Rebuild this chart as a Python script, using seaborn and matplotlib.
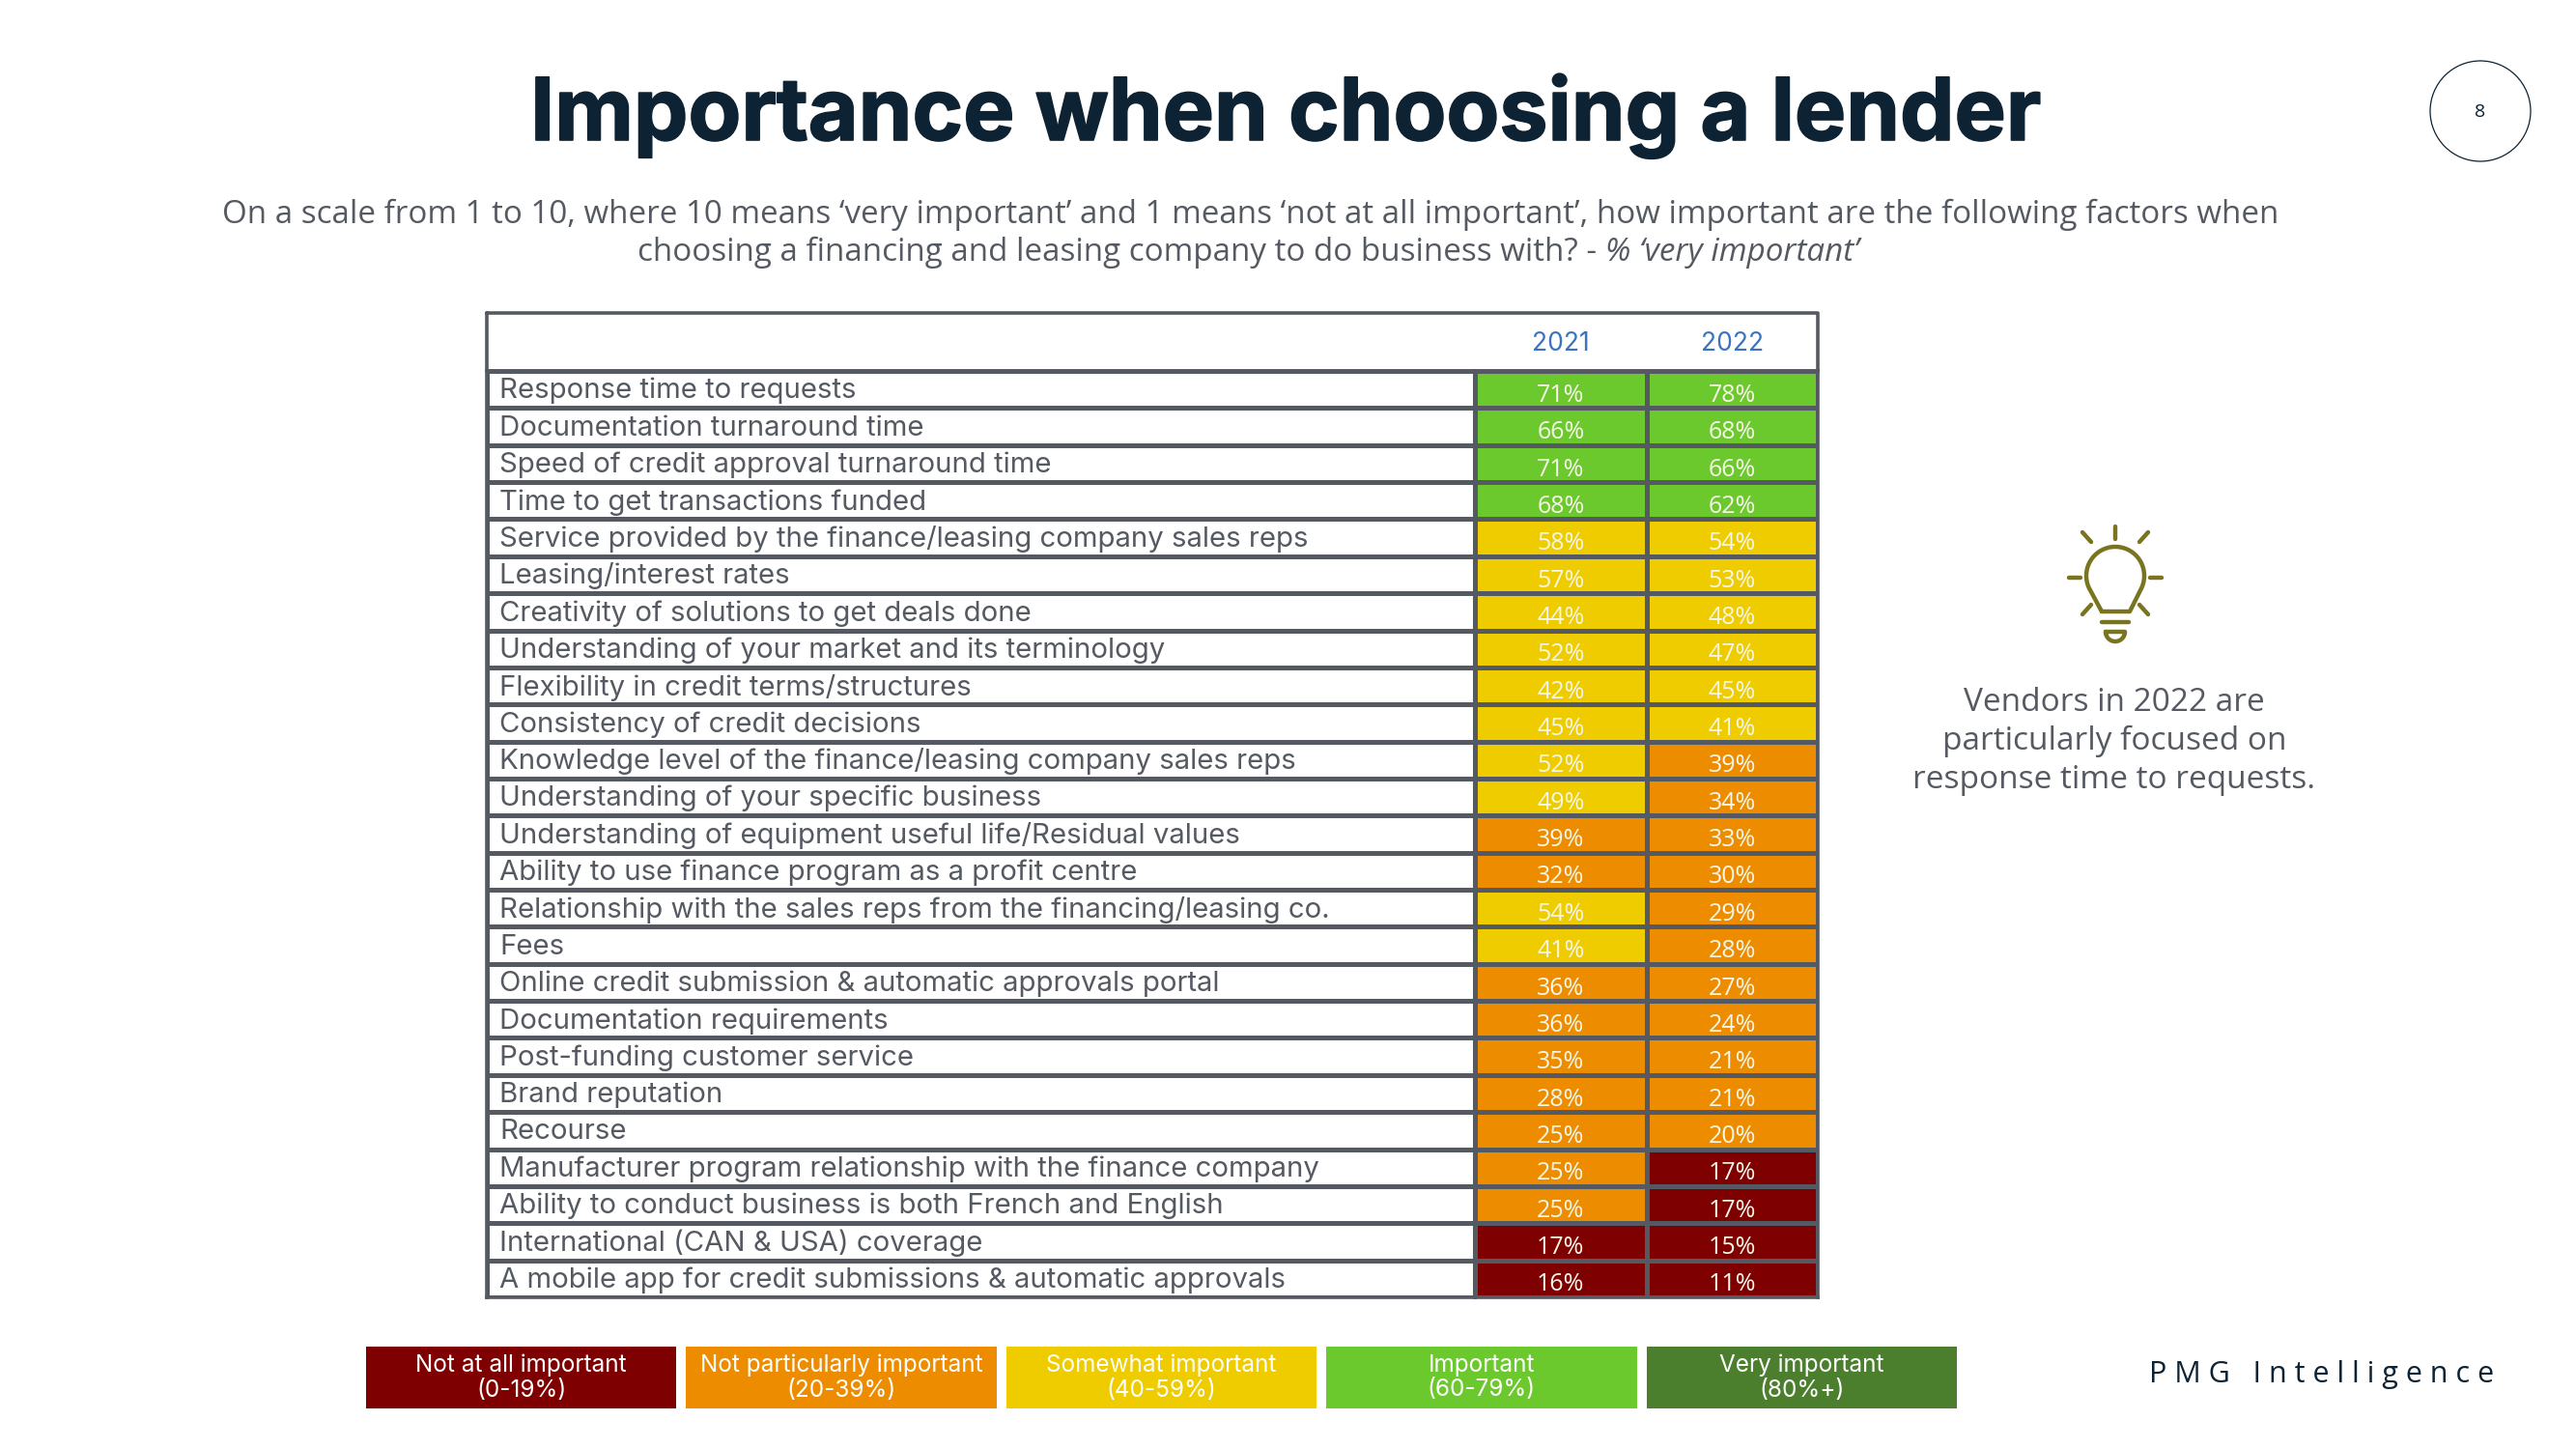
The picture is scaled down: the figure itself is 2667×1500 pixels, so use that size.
import matplotlib
matplotlib.use("Agg")
import matplotlib.patheffects as pe
import matplotlib.pyplot as plt
import numpy as np
import pandas as pd
import seaborn as sns
from matplotlib.colors import BoundaryNorm, ListedColormap
from matplotlib.patches import Circle
from matplotlib.transforms import ScaledTranslation

factors = [
    "Response time to requests",
    "Documentation turnaround time",
    "Speed of credit approval turnaround time",
    "Time to get transactions funded",
    "Service provided by the finance/leasing company sales reps",
    "Leasing/interest rates",
    "Creativity of solutions to get deals done",
    "Understanding of your market and its terminology",
    "Flexibility in credit terms/structures",
    "Consistency of credit decisions",
    "Knowledge level of the finance/leasing company sales reps",
    "Understanding of your specific business",
    "Understanding of equipment useful life/Residual values",
    "Ability to use finance program as a profit centre",
    "Relationship with the sales reps from the financing/leasing co.",
    "Fees",
    "Online credit submission & automatic approvals portal",
    "Documentation requirements",
    "Post-funding customer service",
    "Brand reputation",
    "Recourse",
    "Manufacturer program relationship with the finance company",
    "Ability to conduct business is both French and English",
    "International (CAN & USA) coverage",
    "A mobile app for credit submissions & automatic approvals",
]
pct_2021 = [71, 66, 71, 68, 58, 57, 44, 52, 42, 45, 52, 49, 39, 32, 54, 41, 36, 36, 35, 28, 25, 25, 25, 17, 16]
pct_2022 = [78, 68, 66, 62, 54, 53, 48, 47, 45, 41, 39, 34, 33, 30, 29, 28, 27, 24, 21, 21, 20, 17, 17, 15, 11]
years = ["2021", "2022"]

band_edges = [0, 20, 40, 60, 80, 101]
band_colors = ["#7f0000", "#ee8c00", "#eecc00", "#6cc92d", "#4c7f2d"]
band_labels = [
    "Not at all important\n(0-19%)",
    "Not particularly important\n(20-39%)",
    "Somewhat important\n(40-59%)",
    "Important\n(60-79%)",
    "Very important\n(80%+)",
]

W, H = 2667, 1500
LINE = "#555a62"
TEXT = "#555a62"
NAVY = "#0d2233"
BODY = "Open Sans"
TABLE = "Inter"

sns.set_theme(style="white")
plt.rcParams["font.family"] = [BODY, "DejaVu Sans"]


def px_axes(fig, x0, y0, x1, y1, **kw):
    return fig.add_axes([x0 / W, 1 - y1 / H, (x1 - x0) / W, (y1 - y0) / H], **kw)


fig = plt.figure(figsize=(W / 100, H / 100), dpi=100, facecolor="white")

# full page overlay in pixel coords for the slide furniture
page = px_axes(fig, 0, 0, W, H)
page.set(xlim=(0, W), ylim=(H, 0))
page.axis("off")

title = page.text(1331, 120, "Importance when choosing a lender", ha="center", va="center",
                  fontsize=64.5, fontweight="bold", color=NAVY, family=TABLE)
title.set_path_effects([pe.withStroke(linewidth=1.2, foreground=NAVY)])
page.text(1295, 222, "On a scale from 1 to 10, where 10 means ‘very important’ and 1 means ‘not at all important’, "
          "how important are the following factors when", ha="center", va="center", fontsize=23.9, color=TEXT)
sub2 = page.text(660, 270, "choosing a financing and leasing company to do business with? - ",
                 ha="left", va="baseline", fontsize=23.9, color=TEXT)
page.annotate("% ‘very important’", xy=(1, 0), xycoords=sub2, ha="left", va="bottom",
              fontsize=23.9, color=TEXT, style="italic")

page.add_patch(Circle((2568, 115), 52, fill=False, ec=NAVY, lw=0.9))
page.text(2568, 116, "8", ha="center", va="center", fontsize=14, color=NAVY)

# lightbulb icon
OLIVE = "#7a7420"
t = np.radians(np.linspace(205, -25, 60))
bx = 2190 + 30 * np.cos(t)
by = 596 - 30 * np.sin(t)
page.plot(np.r_[2176, bx, 2205, 2176], np.r_[633, by, 633, 633], color=OLIVE, lw=3.2, solid_joinstyle="round")
for x0, y0, x1, y1 in [(2190, 545, 2190, 558), (2156, 551, 2165, 561), (2224, 551, 2215, 561),
                       (2142, 598, 2154, 598), (2226, 598, 2238, 598), (2156, 636, 2165, 626),
                       (2224, 636, 2215, 626), (2176, 644, 2204, 644)]:
    page.plot([x0, x1], [y0, y1], color=OLIVE, lw=3.2, solid_capstyle="round")
t = np.radians(np.linspace(180, 360, 20))
page.plot(np.r_[2180, 2190 + 10 * np.cos(t), 2180], np.r_[654, 654 - 10 * np.sin(t), 654], color=OLIVE, lw=3.2)

for y, line in zip([727, 767, 807], ["Vendors in 2022 are", "particularly focused on", "response time to requests."]):
    page.text(2189, y, line, ha="center", va="center", fontsize=24, color=TEXT)

page.text(2404, 1423, "P M G   I n t e l l i g e n c e", ha="center", va="center", fontsize=22, color=NAVY)

# header row of the table
page.plot([504, 1882, 1882, 504, 504], [324, 324, 384, 384, 324], color=LINE, lw=2.6)

# factor column
blank = pd.DataFrame({"factor": np.zeros(len(factors))}, index=factors)
ax_names = px_axes(fig, 504, 384, 1527, 1343)
sns.heatmap(blank, cmap=ListedColormap(["white"]), cbar=False, linewidths=2.4, linecolor=LINE,
            xticklabels=False, yticklabels=True, ax=ax_names)
ax_names.set_axisbelow(False)
ax_names.tick_params(axis="y", length=0, pad=-9.5, labelsize=21.1, labelcolor=TEXT)
nudge = ScaledTranslation(0, -1.5 / 100, fig.dpi_scale_trans)
for lab in ax_names.get_yticklabels():
    lab.set_ha("left")
    lab.set_rotation(0)
    lab.set_family(TABLE)
    lab.set_transform(lab.get_transform() + nudge)
ax_names.set(xlabel="", ylabel="")

# percentages
scores = pd.DataFrame({years[0]: pct_2021, years[1]: pct_2022}, index=factors)
cmap = ListedColormap(band_colors)
norm = BoundaryNorm(band_edges, cmap.N)
ax_vals = px_axes(fig, 1527, 384, 1882, 1343)
sns.heatmap(scores, cmap=cmap, norm=norm, cbar=False, linewidths=2.4, linecolor=LINE,
            annot=scores.map(lambda v: f"{v}%"), fmt="",
            annot_kws={"fontsize": 18, "color": "white", "family": BODY},
            yticklabels=False, ax=ax_vals)
for txt in ax_vals.texts:
    txt.set_y(txt.get_position()[1] + 0.16)
    txt.set_color("#f6f6e8")
ax_vals.xaxis.tick_top()
ax_vals.tick_params(axis="x", length=0, pad=11, labelsize=19, labelcolor="#3a74c0")
for lab in ax_vals.get_xticklabels():
    lab.set_family(TABLE)
ax_vals.set(xlabel="", ylabel="")

for ax in (ax_names, ax_vals):
    for side in ax.spines.values():
        side.set_visible(True)
        side.set_color(LINE)
        side.set_linewidth(2.6)

# colour key
key_values = np.array([[10, 30, 50, 70, 90]])
ax_key = px_axes(fig, 374, 1389, 2031, 1463)
sns.heatmap(key_values, cmap=cmap, norm=norm, cbar=False, linewidths=7, linecolor="white",
            annot=np.array([band_labels]), fmt="",
            annot_kws={"fontsize": 17.5, "color": "white", "family": TABLE, "linespacing": 1.15},
            xticklabels=False, yticklabels=False, ax=ax_key)

fig.savefig("out.png", dpi=100)
